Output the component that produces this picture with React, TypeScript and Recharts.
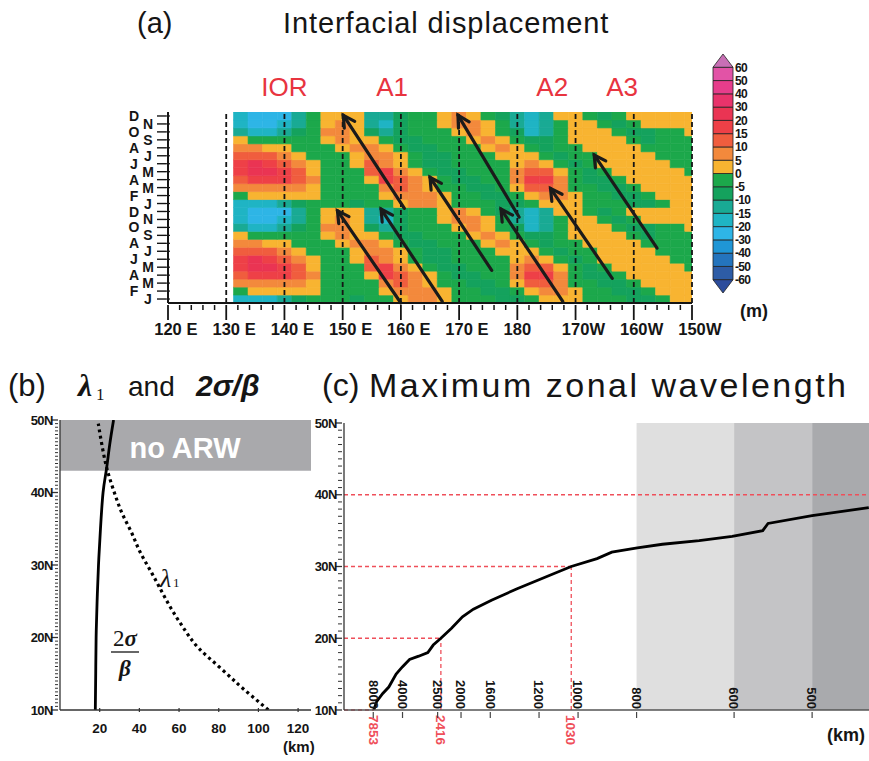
import React from 'react';
import { ComposedChart, XAxis, YAxis, Line, ReferenceArea, ReferenceLine } from 'recharts';

const FONT = '"Liberation Sans", Arial, sans-serif';
const SERIF = '"Liberation Serif", "DejaVu Serif", serif';
const INK = '#151515';

// ---------- (a) interfacial displacement ----------
const LONGITUDES = [
  132.5, 135, 137.5, 140, 142.5, 145, 147.5, 150, 152.5, 155, 157.5, 160, 162.5, 165, 167.5, 170,
  172.5, 175, 177.5, 180, 182.5, 185, 187.5, 190, 192.5, 195, 197.5, 200, 202.5, 205, 207.5, 210,
];
// value (m) for each digit code used in the rows below
const CODE_VALUES = [-25, -17, -12, -7, -2, 2, 7, 12, 17, 25];
// monthly climatology Jan..Dec, one digit per longitude (shown for two years)
const CLIM_ROWS = [
  '11123444344566544433455544433455', // Jan
  '45555544445666544334566544334555', // Feb
  '66666544446765443345776443345555', // Mar
  '78887644458765433446886433455555', // Apr
  '89987544478654334446775434555554', // May
  '89876544576543344445654345555544', // Jun
  '77765444566543344455543445555444', // Jul
  '66554445665433444565434455554444', // Aug
  '54444456554334445654334555543444', // Sep
  '21123466532344456543124555433445', // Oct
  '10012456521344566542124554345555', // Nov
  '10002455522344565432125543455555', // Dec
];
const YEARS_SHOWN = 2;
const MONTH_LETTERS = ['J', 'F', 'M', 'A', 'M', 'J', 'J', 'A', 'S', 'O', 'N', 'D'];
const LON_TICKS = [120, 130, 140, 150, 160, 170, 180, 190, 200, 210];
const LON_MINOR_STEP = 2;
const REGION_LABELS = ['IOR', 'A1', 'A2', 'A3'];
const REGION_LON = [140, 158.5, 186, 198];
// arrows: [lon, month index] from tail to head
const ARROW_TAILS = [
  [160.6, 11.4], [160.0, -0.5], [167.1, -0.3], [175.6, 3.6],
  [180.3, 10.3], [187.8, -0.3], [196.3, 2.6], [204.0, 6.4],
];
const ARROW_HEADS = [
  [150.1, 23.1], [149.1, 11.1], [156.6, 11.3], [165.0, 15.3],
  [169.8, 23.1], [177.2, 11.3], [185.7, 13.9], [193.2, 18.1],
];

// colour bar
const CB_LEVELS = [-60, -50, -40, -30, -20, -15, -10, -5, 0, 5, 10, 15, 20, 30, 40, 50, 60];
const CB_COLORS = [
  '#2d5ca6', '#2474bd', '#1f96d6', '#2eb5e6', '#1fb4c4', '#19aa94', '#14a25d', '#1ca84b',
  '#f8b431', '#f3893c', '#f05d3e', '#ee4047', '#ea3453', '#e8336b', '#e63d8b', '#e253a6',
];
const CB_UNDER = '#2c4c9c';
const CB_OVER = '#c86fb5';

// ---------- (b) lambda1 and 2sigma/beta ----------
const SIGMA_KM = [17.8, 18.0, 18.2, 18.7, 19.4, 20.4, 21.7, 23.3, 25.0, 27.0];
const SIGMA_LAT = [10, 15, 20, 25, 30, 35, 40, 43, 46.5, 50];
const LAMBDA1_KM = [105, 98.5, 90, 80, 70, 63, 56, 50, 45, 40, 36, 31.5, 28, 25, 23, 21.5, 20.2, 19.3];
const LAMBDA1_LAT = [10, 11.5, 13.5, 16, 18.5, 21, 24, 27, 29.5, 32, 34.5, 37, 39.5, 42, 44, 46, 48, 49.5];
const KM_TICKS = [20, 40, 60, 80, 100, 120];
const NO_ARW_LAT = 43;

// ---------- (c) maximum zonal wavelength ----------
const WAVELENGTH_KM = [
  7853, 7150, 6040, 5225, 4490, 4013, 3570, 3134, 2792, 2623, 2416, 2177, 1976, 1809,
  1587, 1352, 1117, 1030, 925, 874, 798, 735, 659, 603, 559, 552, 500, 446,
];
const WAVE_LAT = [
  10, 11.2, 12.3, 13.2, 15.0, 16.0, 17.05, 17.5, 18.0, 19.05, 20, 21.4, 23.0, 24.05,
  25.3, 26.9, 29.0, 30.0, 31.1, 32.0, 32.6, 33.1, 33.6, 34.2, 35.0, 36.0, 37.1, 38.2,
];
const WAVE_TICKS_KM = [8000, 4000, 2500, 2000, 1600, 1200, 1000, 800, 600, 500];
const MARKED_KM = [7853, 2416, 1030];
const MARKED_LAT = [10, 20, 30];
const BAND_EDGES_KM = [800, 600, 500];
const BAND_COLORS = ['#dfdfdf', '#c4c4c6', '#a9aaad'];
const RED = '#ef4f5a';

const colorFor = (v: number) => {
  if (v < CB_LEVELS[0]) return CB_UNDER;
  for (let i = 0; i < CB_COLORS.length; i++) {
    if (v >= CB_LEVELS[i] && v < CB_LEVELS[i + 1]) return CB_COLORS[i];
  }
  return CB_OVER;
};

const heatCells: { lon: number; m: number; v: number }[] = [];
for (let m = 0; m < 12 * YEARS_SHOWN; m++) {
  const row = CLIM_ROWS[m % 12];
  LONGITUDES.forEach((lon, c) => heatCells.push({ lon, m, v: CODE_VALUES[Number(row[c])] }));
}
const halfCol = (LONGITUDES[1] - LONGITUDES[0]) / 2;
const monthTicks = Array.from({ length: 12 * YEARS_SHOWN }, (_, i) => i);
const lonTicks: number[] = [];
for (let v = LON_TICKS[0]; v <= LON_TICKS[LON_TICKS.length - 1]; v += LON_MINOR_STEP) lonTicks.push(v);

const LonTick = ({ x, y, payload }: any) => {
  const v = payload.value;
  if (v % 10 !== 0) return <line x1={x} x2={x} y1={y} y2={y + 5} stroke={INK} strokeWidth={1.5} />;
  const num = v <= 180 ? v : 360 - v;
  const suffix = v < 180 ? 'E' : v > 180 ? 'W' : '';
  return (
    <g fontFamily={FONT} fontWeight={700} fontSize={16.5} fill={INK}>
      <line x1={x} x2={x} y1={y} y2={y + 15} stroke={INK} strokeWidth={1.8} />
      <text x={x} y={y + 30} textAnchor="middle">{num}</text>
      {suffix && (
        <text x={x + (suffix === 'E' ? 18.5 : 14)} y={y + 30} textAnchor="start">{suffix}</text>
      )}
    </g>
  );
};

const MonthTick = ({ x, y, payload }: any) => {
  const m = payload.value;
  const right = m % 2 === 0;
  return (
    <g>
      <line x1={x - 9} x2={x} y1={y} y2={y} stroke={INK} strokeWidth={1.4} />
      <line x1={x} x2={x + 4} y1={y} y2={y} stroke={INK} strokeWidth={1.2} />
      <text x={right ? x - 18 : x - 32} y={y} dy="0.36em" textAnchor="middle"
        fontFamily={FONT} fontWeight={700} fontSize={14} fill={INK}>
        {MONTH_LETTERS[m % 12]}
      </text>
    </g>
  );
};

const ArrowShape = (p: any) => {
  const { x1, y1, x2, y2 } = p;
  if ([x1, y1, x2, y2].some((v) => typeof v !== 'number' || Number.isNaN(v))) return <g />;
  const ang = Math.atan2(y2 - y1, x2 - x1);
  const len = 13;
  const spread = 0.5;
  const ax = x2 - len * Math.cos(ang - spread);
  const ay = y2 - len * Math.sin(ang - spread);
  const bx = x2 - len * Math.cos(ang + spread);
  const by = y2 - len * Math.sin(ang + spread);
  return (
    <g>
      <line x1={x1} y1={y1} x2={x2} y2={y2} stroke="#1b1b1b" strokeWidth={3.2} strokeLinecap="round" />
      <polyline points={`${ax},${ay} ${x2},${y2} ${bx},${by}`} fill="none" stroke="#1b1b1b"
        strokeWidth={3.2} strokeLinecap="round" />
    </g>
  );
};

const CbTick = ({ x, y, payload }: any) => (
  <text x={x} y={y} dy="0.36em" textAnchor="start"
    fontFamily={FONT} fontWeight={700} fontSize={12} fill={INK} letterSpacing={-0.7}>
    {CB_LEVELS[payload.value]}
  </text>
);
const TriUp = (p: any) => (
  <polygon points={`${p.x},${p.y + p.height} ${p.x + p.width / 2},${p.y} ${p.x + p.width},${p.y + p.height}`}
    fill={CB_OVER} stroke="#222" strokeWidth={0.8} />
);
const TriDown = (p: any) => (
  <polygon points={`${p.x},${p.y} ${p.x + p.width / 2},${p.y + p.height} ${p.x + p.width},${p.y}`}
    fill={CB_UNDER} stroke="#222" strokeWidth={0.8} />
);

const makeLatTick = (minorLen: number) => ({ x, y, payload }: any) => {
  const v = payload.value;
  const major = Math.abs(v % 10) < 1e-6;
  return (
    <g>
      <line x1={x - (major ? 7 : minorLen)} x2={x} y1={y} y2={y} stroke="#333" strokeWidth={major ? 1.3 : 1} />
      {major && (
        <text x={x - 5} y={y} dy="0.36em" textAnchor="end"
          fontFamily={FONT} fontWeight={700} fontSize={13} fill={INK} letterSpacing={-0.5}>
          {`${v}N`}
        </text>
      )}
    </g>
  );
};

const KmTick = ({ x, y, payload }: any) => (
  <g>
    <line x1={x} x2={x} y1={y} y2={y - 4} stroke="#333" strokeWidth={1.2} />
    <text x={x} y={y + 21} textAnchor="middle" fontFamily={FONT} fontWeight={700} fontSize={13.5} fill={INK}>
      {payload.value}
    </text>
  </g>
);

const WaveTick = ({ x, y, payload }: any) => {
  const km = Math.round(1000 / payload.value);
  return (
    <g>
      <line x1={x} x2={x} y1={y} y2={y + 6} stroke="#444" strokeWidth={1.2} />
      <text x={x} y={y - 3} dy="0.36em" textAnchor="end" transform={`rotate(90 ${x} ${y - 3})`}
        fontFamily={FONT} fontWeight={700} fontSize={13} fill={INK}>
        {km}
      </text>
    </g>
  );
};

const redLabel = (text: string) => (props: any) => {
  const vb = props.viewBox || {};
  const x = (vb.x || 0) + (vb.width || 0);
  const y = (vb.y || 0) + (vb.height || 0) + 5;
  return (
    <text x={x} y={y} dy="0.36em" textAnchor="start" transform={`rotate(90 ${x} ${y})`}
      fontFamily={FONT} fontWeight={700} fontSize={13.5} fill={RED}>
      {text}
    </text>
  );
};

const sigmaData = SIGMA_KM.map((km, i) => ({ km, lat: SIGMA_LAT[i] }));
const lambdaData = LAMBDA1_KM.map((km, i) => ({ km, lat: LAMBDA1_LAT[i] }));
const waveData = WAVELENGTH_KM.map((w, i) => ({ k: 1000 / w, lat: WAVE_LAT[i] }));
const bLatTicks = Array.from({ length: 81 }, (_, i) => 10 + i * 0.5);
const cLatTicks = Array.from({ length: 41 }, (_, i) => 10 + i);
const K_MAX = 2.243;
const KM_MAX = 126.5;

const abs = (left: number, top: number): React.CSSProperties => ({ position: 'absolute', left, top });

export default function App() {
  return (
    <div style={{ position: 'absolute', left: 0, top: 0, width: 869, height: 761, background: '#fff', overflow: 'hidden' }}>
      {/* panel (a) */}
      <div style={abs(100, 100)}>
        <ComposedChart width={650} height={240} margin={{ top: 12, right: 58, bottom: 0, left: 0 }} data={heatCells}>
          <XAxis type="number" dataKey="lon" domain={[120, 210]} allowDataOverflow ticks={lonTicks} interval={0}
            height={37} tickSize={0} tickLine={false} tick={LonTick} axisLine={{ stroke: INK, strokeWidth: 2 }} />
          <YAxis type="number" dataKey="m" domain={[-0.5, 23.5]} allowDataOverflow ticks={monthTicks} interval={0}
            width={68} tickSize={0} tickLine={false} tick={MonthTick} axisLine={{ stroke: INK, strokeWidth: 2 }} />
          {heatCells.map((c, i) => (
            <ReferenceArea key={`h${i}`} x1={c.lon - halfCol} x2={c.lon + halfCol} y1={c.m - 0.5} y2={c.m + 0.5}
              fill={colorFor(c.v)} fillOpacity={1} stroke={colorFor(c.v)} strokeWidth={0.6} ifOverflow="hidden" />
          ))}
          {LON_TICKS.slice(1).map((lon) => (
            <ReferenceLine key={`d${lon}`} x={lon} stroke={INK} strokeWidth={1.8} strokeDasharray="5 3" ifOverflow="visible" />
          ))}
          {ARROW_TAILS.map((t, i) => (
            <ReferenceLine key={`a${i}`} ifOverflow="visible" shape={ArrowShape}
              segment={[{ x: t[0], y: t[1] }, { x: ARROW_HEADS[i][0], y: ARROW_HEADS[i][1] }]} />
          ))}
        </ComposedChart>
      </div>

      {/* colour bar */}
      <div style={abs(690, 40)}>
        <ComposedChart width={90} height={270} margin={{ top: 14, right: 7, bottom: 17, left: 23 }}
          data={CB_COLORS.map((c, i) => ({ i, c }))}>
          <XAxis type="number" dataKey="i" domain={[0, 1]} allowDataOverflow hide />
          <YAxis type="number" orientation="right" domain={[-1, CB_COLORS.length + 1]} allowDataOverflow
            ticks={CB_LEVELS.map((_, i) => i)} interval={0} width={40} axisLine={false} tickLine={false}
            tickSize={0} tickMargin={2} tick={CbTick} />
          {CB_COLORS.map((c, i) => (
            <ReferenceArea key={`cb${i}`} x1={0} x2={1} y1={i} y2={i + 1} fill={c} fillOpacity={1}
              stroke="#222" strokeWidth={0.8} ifOverflow="visible" />
          ))}
          <ReferenceArea x1={0} x2={1} y1={-1} y2={0} shape={TriDown} ifOverflow="visible" />
          <ReferenceArea x1={0} x2={1} y1={CB_COLORS.length} y2={CB_COLORS.length + 1} shape={TriUp} ifOverflow="visible" />
        </ComposedChart>
      </div>

      {/* panel (b) */}
      <div style={abs(0, 400)}>
        <ComposedChart width={330} height={360} margin={{ top: 20, right: 19, bottom: 20, left: 0 }}>
          <XAxis type="number" dataKey="km" domain={[0, KM_MAX]} allowDataOverflow ticks={KM_TICKS} interval={0}
            height={30} tickSize={0} tickLine={false} tick={KmTick} axisLine={{ stroke: '#333', strokeWidth: 1.3 }} />
          <YAxis type="number" dataKey="lat" domain={[10, 50]} allowDataOverflow ticks={bLatTicks} interval={0}
            width={60} tickSize={0} tickLine={false} tick={makeLatTick(3)} axisLine={{ stroke: '#333', strokeWidth: 1.3 }} />
          <ReferenceArea x1={0} x2={KM_MAX} y1={NO_ARW_LAT} y2={50} fill="#a9a9ac" fillOpacity={1} ifOverflow="visible" />
          <Line data={sigmaData} dataKey="lat" type="natural" stroke="#000" strokeWidth={2.8} dot={false}
            isAnimationActive={false} />
          <Line data={lambdaData} dataKey="lat" type="natural" stroke="#000" strokeWidth={3.2}
            strokeDasharray="3 3.4" dot={false} isAnimationActive={false} />
        </ComposedChart>
      </div>

      {/* panel (c) */}
      <div style={abs(300, 400)}>
        <ComposedChart width={569} height={360} margin={{ top: 23, right: 0, bottom: 20, left: 0 }}>
          <XAxis type="number" dataKey="k" domain={[0, K_MAX]} allowDataOverflow
            ticks={WAVE_TICKS_KM.map((w) => 1000 / w)} interval={0} height={30} tickSize={0} tickLine={false}
            tick={WaveTick} axisLine={{ stroke: '#555', strokeWidth: 1.4 }} />
          <YAxis type="number" dataKey="lat" domain={[10, 50]} allowDataOverflow ticks={cLatTicks} interval={0}
            width={44} tickSize={0} tickLine={false} tick={makeLatTick(4)} axisLine={{ stroke: '#333', strokeWidth: 1.3 }} />
          {BAND_COLORS.map((c, i) => (
            <ReferenceArea key={`bd${i}`} x1={1000 / BAND_EDGES_KM[i]}
              x2={i + 1 < BAND_EDGES_KM.length ? 1000 / BAND_EDGES_KM[i + 1] : K_MAX}
              y1={10} y2={50} fill={c} fillOpacity={1} ifOverflow="visible" />
          ))}
          <ReferenceLine y={40} stroke={RED} strokeWidth={1.3} strokeDasharray="4 3" />
          {MARKED_KM.map((w, i) => (
            <ReferenceLine key={`rh${i}`} ifOverflow="visible" stroke={RED} strokeWidth={1.3} strokeDasharray="4 3"
              segment={[{ x: 0, y: MARKED_LAT[i] }, { x: 1000 / w, y: MARKED_LAT[i] }]}
              label={MARKED_LAT[i] === 10 ? redLabel(String(w)) : undefined} />
          ))}
          {MARKED_KM.map((w, i) =>
            MARKED_LAT[i] > 10 ? (
              <ReferenceLine key={`rv${i}`} ifOverflow="visible" stroke={RED} strokeWidth={1.3} strokeDasharray="4 3"
                segment={[{ x: 1000 / w, y: 10 }, { x: 1000 / w, y: MARKED_LAT[i] }]} label={redLabel(String(w))} />
            ) : null,
          )}
          <Line data={waveData} dataKey="lat" type="linear" stroke="#000" strokeWidth={2.8} dot={false}
            isAnimationActive={false} />
        </ComposedChart>
      </div>

      {/* text layer */}
      <svg width={869} height={761} style={{ position: 'absolute', left: 0, top: 0, pointerEvents: 'none' }}>
        <g fontFamily={FONT} fill={INK}>
          <text x={137} y={33} fontSize={29}>(a)</text>
          <text x={283} y={33} fontSize={29} letterSpacing={0.9}>Interfacial displacement</text>
          {REGION_LABELS.map((t, i) => (
            <text key={t} x={168 + (REGION_LON[i] - 120) * 5.822} y={96} fontSize={26} textAnchor="middle" fill="#e8343f">{t}</text>
          ))}
          <text x={740} y={317} fontSize={18} fontWeight={700}>(m)</text>

          <text x={8} y={396} fontSize={31}>(b)</text>
          <text x={78} y={396} fontSize={32} fontStyle="italic" fontWeight={700} fontFamily={SERIF}>λ</text>
          <text x={96} y={400} fontSize={17} fontFamily={SERIF}>1</text>
          <text x={128} y={396} fontSize={28}>and</text>
          <text x={196} y={396} fontSize={30} fontStyle="italic" fontWeight={700}>2σ/β</text>
          <text x={322} y={396} fontSize={32}>(c)</text>
          <text x={369} y={397} fontSize={34} letterSpacing={2.5}>Maximum zonal wavelength</text>

          <text x={185} y={458} fontSize={29} fontWeight={700} textAnchor="middle" fill="#fff">no ARW</text>
          <text x={160} y={587} fontSize={26} fontStyle="italic" fontFamily={SERIF}>λ</text>
          <text x={173} y={587} fontSize={13} fontFamily={SERIF}>1</text>
          <text x={125} y={646} fontSize={23} textAnchor="middle" fontFamily={SERIF}>2<tspan fontStyle="italic" fontWeight={700}>σ</tspan></text>
          <line x1={111} x2={139} y1={652} y2={652} stroke={INK} strokeWidth={1.3} />
          <text x={125} y={676} fontSize={23} textAnchor="middle" fontFamily={SERIF} fontStyle="italic" fontWeight={700}>β</text>
          <text x={283} y={752} fontSize={15} fontWeight={700}>(km)</text>
          <text x={827} y={741} fontSize={18} fontWeight={700}>(km)</text>
        </g>
      </svg>
    </div>
  );
}
